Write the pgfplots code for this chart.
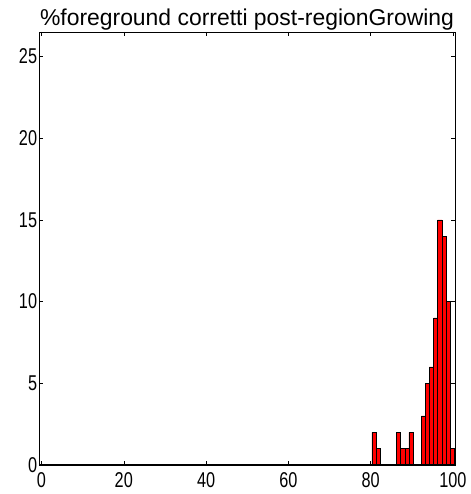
\documentclass[border=0pt]{standalone}
\usepackage{pgfplots}
\pgfplotsset{compat=1.18}
\usepackage{fontspec}
\setmainfont{Liberation Sans}
\begin{document}
\begin{tikzpicture}
\begin{axis}[
  at={(0,0)}, anchor=south west,
  scale only axis,
  width=416bp, height=433bp,
  xmin=-0.6, xmax=100.5,
  ymin=0, ymax=26.5,
  xtick={0,20,40,60,80,100},
  ytick={0,5,10,15,20,25},
  tick align=inside,
  major tick length=4bp,
  tick style={black, line width=0.5pt},
  axis line style={black, line width=0.8pt},
  /pgf/number format/assume math mode=true,
  tick label style={font=\fontsize{21.5}{21.5}\selectfont, xscale=0.76},
  xticklabel style={yshift=-4bp},
  yticklabel style={xshift=1bp},
  title={\%foreground corretti post-regionGrowing},
  title style={font=\fontsize{23}{23}\selectfont, at={(0.5,1)}, anchor=base, yshift=1bp},
]
\addplot[ybar, bar width=1, bar shift=0, fill=red, draw=black, line width=0.5pt] coordinates {
(80.8,2) (81.8,1)
(86.8,2) (87.8,1) (88.8,1) (89.8,2)
(92.8,3) (93.8,5) (94.8,6) (95.8,9) (96.8,15) (97.8,14) (98.8,10) (99.8,1)
};
\draw[black, line width=1.2pt] (axis cs:-0.6,0) -- (axis cs:100.5,0);
\end{axis}
\path[use as bounding box] (-39bp,-29bp) rectangle (432bp,465bp);
\end{tikzpicture}
\end{document}
